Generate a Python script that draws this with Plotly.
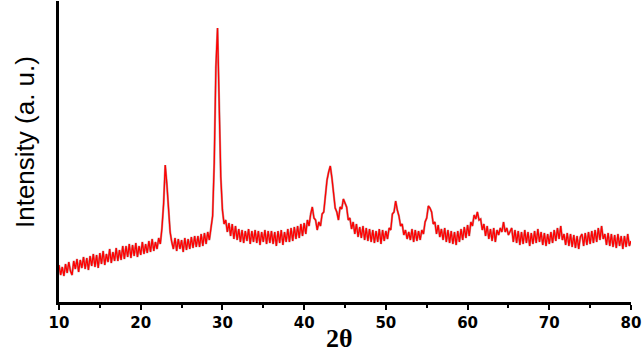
import plotly.graph_objects as go
import numpy as np

# 2-theta sampling: start, step
theta_start = 10.0
theta_step = 0.2

# Intensity (a.u.), every 0.2 deg from 10 to 80
intensity = [
    37, 27, 35, 26, 38,   # 10
    29, 40, 31, 27, 41,   # 11
    33, 43, 30, 42, 34,   # 12
    45, 33, 44, 32, 46,   # 13
    36, 48, 35, 47, 34,   # 14
    49, 38, 51, 37, 48,   # 15
    40, 53, 39, 50, 41,   # 16
    54, 41, 52, 42, 56,   # 17
    43, 56, 45, 58, 44,   # 18
    57, 46, 59, 45, 56,   # 19
    47, 60, 48, 58, 49,   # 20
    61, 50, 63, 51, 60,   # 21
    53, 64, 58, 74, 98,   # 22
    137, 118, 88, 70, 60, # 23
    53, 64, 51, 63, 53,   # 24
    62, 50, 64, 52, 63,   # 25
    53, 65, 54, 66, 55,   # 26
    66, 55, 68, 56, 69,   # 27
    58, 70, 62, 74, 86,   # 28
    140, 235, 274, 205, 125,  # 29
    92, 78, 82, 70, 79,   # 30
    66, 78, 63, 76, 62,   # 31
    73, 60, 72, 59, 71,   # 32
    61, 73, 58, 71, 60,   # 33
    72, 59, 71, 57, 70,   # 34
    60, 72, 58, 71, 59,   # 35
    71, 58, 70, 56, 71,   # 36
    59, 72, 57, 70, 60,   # 37
    73, 60, 74, 61, 75,   # 38
    63, 76, 64, 78, 66,   # 39
    79, 68, 82, 76, 88,   # 40
    95, 84, 82, 72, 80,   # 41
    76, 88, 90, 106, 122, # 42
    130, 136, 124, 110, 94,  # 43
    90, 82, 95, 93, 103,  # 44
    98, 95, 82, 84, 73,   # 45
    80, 68, 78, 65, 75,   # 46
    64, 76, 62, 74, 61,   # 47
    73, 60, 72, 59, 71,   # 48
    60, 73, 58, 72, 61,   # 49
    71, 63, 74, 72, 88,   # 50
    90, 101, 92, 86, 76,  # 51
    78, 67, 72, 63, 70,   # 52
    62, 73, 60, 72, 61,   # 53
    71, 62, 72, 68, 80,   # 54
    84, 96, 94, 90, 78,   # 55
    80, 68, 77, 65, 73,   # 56
    62, 74, 60, 72, 59,   # 57
    71, 58, 70, 57, 71,   # 58
    60, 73, 62, 75, 64,   # 59
    77, 66, 80, 76, 87,   # 60
    83, 90, 82, 83, 72,   # 61
    78, 66, 76, 63, 73,   # 62
    61, 74, 60, 72, 67,   # 63
    74, 70, 80, 70, 74,   # 64
    67, 71, 74, 60, 72,   # 65
    59, 71, 57, 70, 58,   # 66
    72, 59, 70, 56, 69,   # 67
    58, 71, 59, 73, 60,   # 68
    70, 57, 69, 56, 68,   # 69
    58, 70, 59, 72, 61,   # 70
    74, 63, 76, 62, 68,   # 71
    57, 69, 56, 68, 55,   # 72
    67, 54, 66, 53, 65,   # 73
    68, 56, 69, 57, 70,   # 74
    58, 71, 59, 72, 60,   # 75
    74, 62, 76, 63, 68,   # 76
    57, 69, 56, 68, 55,   # 77
    67, 54, 68, 56, 66,   # 78
    53, 66, 55, 68, 56,   # 79
    61,                   # 80
]

x_tick_vals = [10, 20, 30, 40, 50, 60, 70, 80]
x_tick_text = ["10", "20", "30", "40", "50", "60", "70", "80"]

two_theta = np.round(theta_start + theta_step * np.arange(len(intensity)), 2)

fig = go.Figure()
fig.add_trace(go.Scatter(x=two_theta, y=intensity, mode="lines",
                         line=dict(color="rgba(130,30,30,0.45)", width=2.2),
                         hoverinfo="skip", showlegend=False))
fig.add_trace(go.Scatter(x=two_theta, y=intensity, mode="lines",
                         line=dict(color="#ff0000", width=1.3),
                         showlegend=False))

fig.update_layout(
    width=644, height=354,
    margin=dict(l=59, r=13, t=1, b=52, autoexpand=False),
    plot_bgcolor="white", paper_bgcolor="white",
    xaxis=dict(range=[10, 80], tickmode="array", tickvals=x_tick_vals,
               ticktext=x_tick_text, showgrid=False, zeroline=False,
               showline=True, linecolor="black", linewidth=2.5,
               ticks="outside", ticklen=5, tickwidth=2, tickcolor="black",
               minor=dict(dtick=5, tick0=10, ticks="outside", ticklen=3,
                          tickwidth=2, tickcolor="black"),
               tickfont=dict(family="DejaVu Sans", size=15, color="black",
                             weight="bold")),
    yaxis=dict(range=[0, 301], showticklabels=False, ticks="",
               showgrid=False, zeroline=False, showline=True,
               linecolor="black", linewidth=2.5),
    annotations=[
        dict(text="Intensity (a. u.)", xref="paper", yref="paper",
             x=-0.0594, y=0.5316, xanchor="center", yanchor="middle",
             textangle=-90, showarrow=False,
             font=dict(family="Liberation Sans", size=26, color="black")),
        dict(text="<b>2θ</b>", xref="paper", yref="paper",
             x=0.491, y=-0.12, xanchor="center", yanchor="middle",
             showarrow=False,
             font=dict(family="Liberation Serif", size=26, color="black")),
    ],
)

fig.write_html("out.html", config={"displayModeBar": False},
               post_script="document.body.style.margin='0';document.body.style.padding='0';")
